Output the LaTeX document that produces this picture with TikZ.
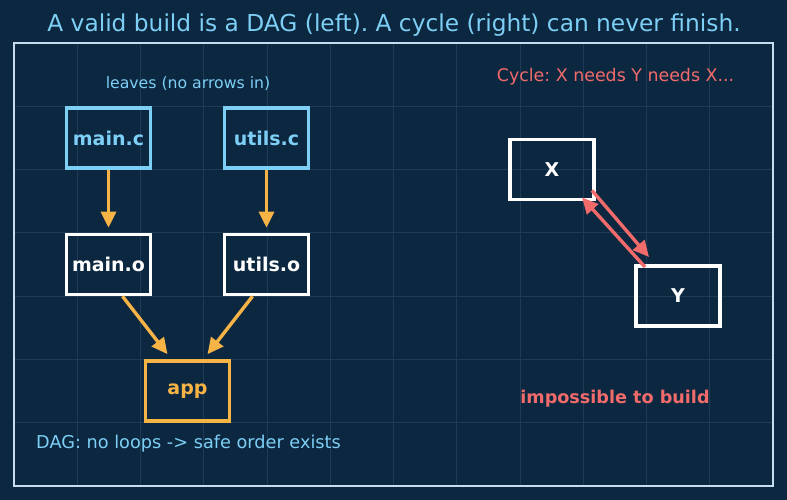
\documentclass[tikz,border=0pt]{standalone}
\usepackage{fontspec}
\setmainfont{DejaVu Sans}
\usetikzlibrary{arrows.meta}
\definecolor{bg}{HTML}{0C2740}
\definecolor{gridc}{HTML}{1E3C56}
\definecolor{framec}{HTML}{C6DDF0}
\definecolor{sky}{HTML}{7DCFF5}
\definecolor{amber}{HTML}{F7B446}
\definecolor{redc}{HTML}{F26B6B}
\tikzset{
  box/.style={draw, line width=3.6pt, minimum width=84pt, minimum height=60pt, inner sep=0pt, font=\fontsize{19}{21}\selectfont\bfseries},
  arr/.style={line width=3.4pt, -{Triangle[length=16pt,width=15pt]}},
  lab/.style={inner sep=0pt, anchor=center},
}
\begin{document}
\frenchspacing
\begin{tikzpicture}[x=1pt,y=-1pt]
\fill[bg] (0,0) rectangle (787,500);
\useasboundingbox (0,0) rectangle (787,500);
\foreach \k in {1,...,11} \draw[gridc, line width=0.8pt] ({14+63.25*\k},43) -- ({14+63.25*\k},486);
\foreach \k in {1,...,6} \draw[gridc, line width=0.8pt] (14,{43+63.29*\k}) -- (773,{43+63.29*\k});
\draw[framec, line width=2pt] (14,43) rectangle (773,486);
\node[lab, text=sky, font=\fontsize{23.3}{25}\selectfont] (title) at (394,25.5) {A valid build is a DAG (left). A cycle (right) can never finish.};
\node[lab, text=sky, font=\fontsize{15.7}{17}\selectfont] (leaves) at (188,84) {leaves (no arrows in)};
\node[lab, text=redc, font=\fontsize{17.4}{19}\selectfont] (cyc) at (615.5,77) {Cycle: X needs Y needs X...};
\node[lab, text=sky, font=\fontsize{17.7}{19}\selectfont] (dag) at (188.5,444) {DAG: no loops -> safe order exists};
\node[lab, text=redc, font=\fontsize{17.6}{19}\selectfont\bfseries] (imp) at (615,399) {impossible to build};
\node[box, draw=sky, text=sky] (mc) at (108.5,138) {main.c};
\node[box, draw=sky, text=sky] (uc) at (266.5,138) {utils.c};
\node[box, draw=white, text=white] (mo) at (108.5,264.5) {main.o};
\node[box, draw=white, text=white] (uo) at (266.5,264.5) {utils.o};
\node[box, draw=amber, text=amber] (app) at (187.5,391) {app};
\node[box, draw=white, text=white] (X) at (552,169.5) {X};
\node[box, draw=white, text=white] (Y) at (678,296) {Y};
\draw[arr, amber, shorten >=5pt] (mc) -- (mo);
\draw[arr, amber, shorten >=5pt] (uc) -- (uo);
\draw[arr, amber] ([xshift=14pt]mo.south) -- ([shift={(-20,-5)}]app.north);
\draw[arr, amber] ([xshift=-14pt]uo.south) -- ([shift={(20,-5)}]app.north);
\draw[arr, redc] ([shift={(40,21)}]X.center) -- ([shift={(-29,-39)}]Y.center);
\draw[arr, redc] ([shift={(-33,-29)}]Y.center) -- ([shift={(30,28)}]X.center);
\end{tikzpicture}
\end{document}
